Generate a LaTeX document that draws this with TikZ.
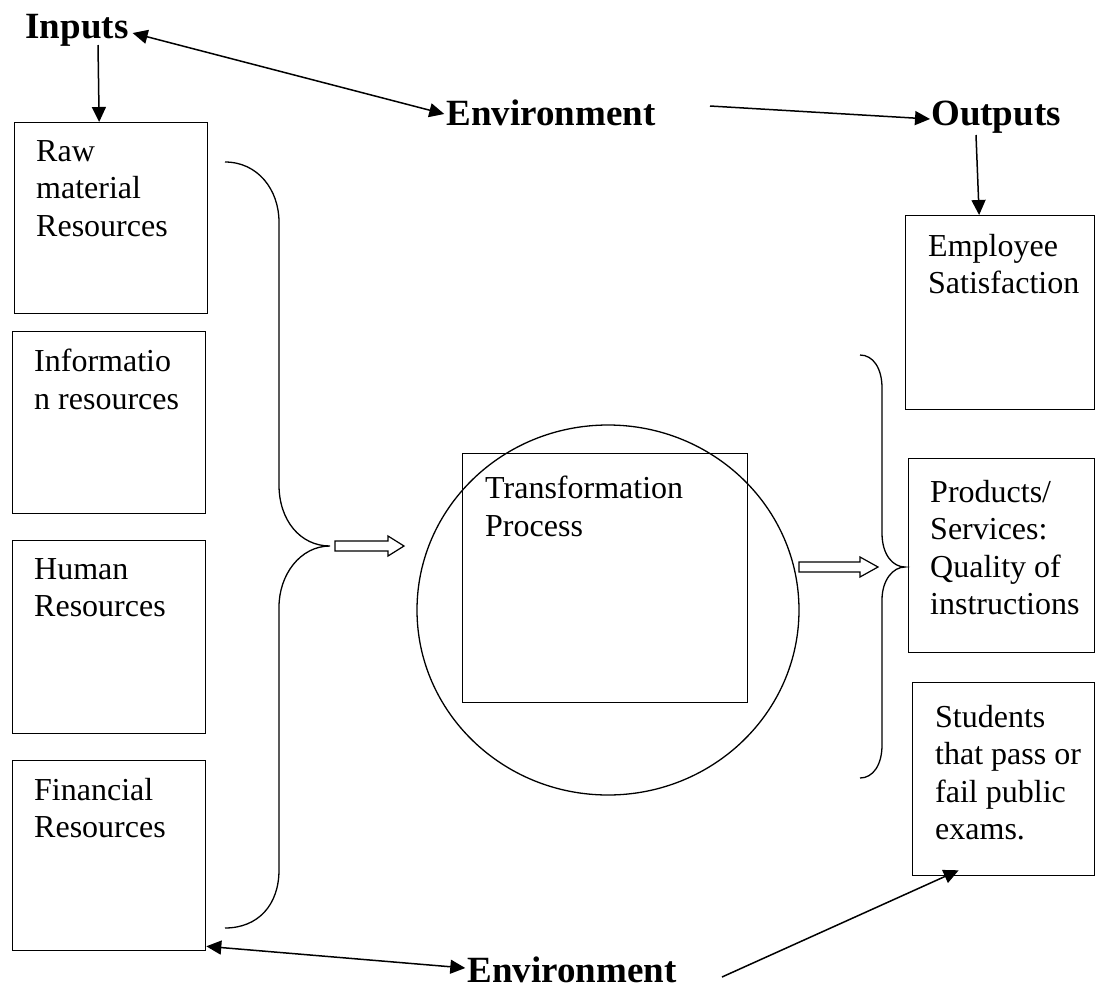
\documentclass[tikz,border=0pt]{standalone}
\usepackage{fontspec}
\setmainfont{Liberation Serif}
\usetikzlibrary{arrows.meta,calc,shapes.geometric}
\begin{document}
\begin{tikzpicture}[x=1pt,y=-1pt,
  box/.style={draw, line width=1.3pt, anchor=north west, inner sep=0pt},
  txt/.style={anchor=north west, inner sep=0pt, align=left, font=\fontsize{32}{37.5}\selectfont},
  lbl/.style={inner sep=0pt, font=\fontsize{37}{40}\selectfont\bfseries},
  arr/.style={-{Triangle[length=15pt,width=14pt]}, line width=1.5pt},
  darr/.style={{Triangle[length=15pt,width=14pt]}-{Triangle[length=15pt,width=14pt]}, line width=1.5pt},
  ln/.style={line width=1.3pt}]
\useasboundingbox (0,0) rectangle (1096,989);

% labels
\node[lbl] (inputs) at (77,30) {Inputs};
\node[lbl] (envtop) at (551,113) {Environment};
\node[lbl] (outputs) at (996,117) {Outputs};
\node[lbl] (envbot) at (572,970) {Environment};

% left boxes
\node[box, minimum width=193pt, minimum height=191pt] (raw) at (14,122) {};
\node[txt] at ($(raw.north west)+(22,18)$) {Raw\\material\\Resources};
\node[box, minimum width=193pt, minimum height=182pt] (info) at (12,331) {};
\node[txt] at ($(info.north west)+(22,18)$) {Informatio\\n resources};
\node[box, minimum width=193pt, minimum height=193pt] (human) at (12,540) {};
\node[txt] at ($(human.north west)+(22,18)$) {Human\\Resources};
\node[box, minimum width=193pt, minimum height=190pt] (fin) at (12,760) {};
\node[txt] at ($(fin.north west)+(22,18)$) {Financial\\Resources};

% right boxes
\node[box, minimum width=189pt, minimum height=194pt] (emp) at (905,215) {};
\node[txt] at ($(emp.north west)+(23,19)$) {Employee\\Satisfaction};
\node[box, minimum width=186pt, minimum height=194pt] (prod) at (908,458) {};
\node[txt] at ($(prod.north west)+(22,22)$) {Products/\\Services:\\Quality of\\instructions};
\node[box, minimum width=182pt, minimum height=193pt] (stud) at (912,682) {};
\node[txt] at ($(stud.north west)+(23,23)$) {Students\\that pass or\\fail public\\exams.};

% transformation
\node[draw, ellipse, line width=1.3pt, minimum width=382pt, minimum height=370pt, inner sep=0pt] (ell) at (608,610) {};
\node[box, minimum width=285pt, minimum height=249pt] (trans) at (462,453) {};
\node[txt] at ($(trans.north west)+(23,23)$) {Transformation\\Process};

% braces
\draw[ln] (225,162) .. controls (258,162) and (279,190) .. (279,222) -- (279,485)
  .. controls (279,520) and (300,546) .. (330,546)
  .. controls (300,546) and (279,575) .. (279,607) -- (279,870)
  .. controls (279,905) and (258,928) .. (225,928);
\draw[ln] (860,355) .. controls (873,355) and (882,368) .. (882,388) -- (882,533)
  .. controls (882,555) and (893,567) .. (905,567)
  .. controls (893,567) and (882,580) .. (882,600) -- (882,745)
  .. controls (882,765) and (873,778) .. (860,778);

% block arrows
\draw[line width=1.2pt] (335,541) -- (388,541) -- (388,536) -- (404,546) -- (388,556) -- (388,551) -- (335,551) -- cycle;
\draw[line width=1.2pt] (799,562) -- (860,562) -- (860,557) -- (878,567) -- (860,577) -- (860,572) -- (799,572) -- cycle;

% connectors
\coordinate (etstart) at (710,106);
\coordinate (ebstart) at (722,977);
\draw[arr] ([xshift=21pt,yshift=-15pt]inputs.center) -- ([xshift=-12pt]raw.north);
\draw[darr] ([xshift=4pt,yshift=-3pt]inputs.east) -- ([xshift=-2pt,yshift=-1pt]envtop.west);
\draw[arr] (etstart) -- ([xshift=-1pt,yshift=-2pt]outputs.west);
\draw[arr] ([xshift=-20pt,yshift=-18pt]outputs.center) -- ([xshift=-21pt]emp.north);
\draw[darr] ([yshift=5pt]fin.south east) -- ([xshift=-2pt,yshift=2pt]envbot.west);
\draw[arr] (ebstart) -- ([xshift=-45pt,yshift=6pt]stud.south);
\end{tikzpicture}
\end{document}
